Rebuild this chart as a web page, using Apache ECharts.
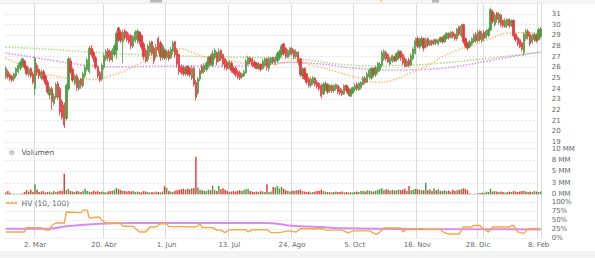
<!DOCTYPE html>
<html><head><meta charset="utf-8">
<script src="https://cdn.jsdelivr.net/npm/echarts@6.0.0/dist/echarts.min.js"></script>
<style>html,body{margin:0;padding:0;background:#fff}#c{width:595px;height:258px}</style>
</head><body><div id="c"></div>
<script>
// ---- categories ----
const startDate = '2015-02-10';
const barCount = 257;
const holidays = ['2015-04-03','2015-04-06','2015-12-25','2016-01-01'];
const tickDates = ['2015-03-02','2015-04-20','2015-06-01','2015-07-13','2015-08-24','2015-10-05','2015-11-16','2015-12-28','2016-02-08'];
const tickLabels = ['2. Mar','20. Abr','1. Jun','13. Jul','24. Ago','5. Oct','16. Nov','28. Dic','8. Feb'];
const extraGridDates = ['2015-12-31'];

// ---- price (OHLC) ----
const open = [
25.1,25.6,25.3,25.2,24.9,25.2,25.6,25.9,26.2,26.6,
26.1,25.3,25.9,25.4,24.0,26.2,25.8,25.0,25.6,25.2,
24.6,23.4,24.0,22.6,23.2,24.5,24.0,22.8,22.5,21.2,
24.0,26.6,25.8,24.5,25.2,24.0,24.9,24.3,25.2,25.8,
25.6,27.8,27.4,26.9,26.0,25.5,24.9,26.0,26.8,27.6,
27.5,26.7,27.2,27.6,29.7,29.3,28.4,29.4,29.3,29.0,
29.0,28.0,28.5,28.6,29.3,29.0,28.2,27.6,26.8,27.4,
28.4,27.8,27.0,28.7,28.3,26.9,27.6,26.9,27.5,26.9,
27.5,28.4,27.6,27.2,26.1,26.0,25.4,26.1,25.9,25.0,
25.9,24.6,23.6,24.9,26.1,25.6,25.8,26.2,27.0,26.2,
26.9,27.4,26.6,27.6,27.2,26.8,26.5,25.9,26.4,25.9,
25.9,25.6,25.5,25.1,25.2,25.5,26.3,26.9,26.8,26.5,
26.4,25.9,26.3,25.9,26.2,26.8,25.9,26.4,26.9,26.4,
26.6,26.9,27.2,28.2,27.8,27.0,27.2,27.8,27.6,27.0,
27.4,26.8,25.2,25.9,25.4,24.9,24.3,24.5,25.0,24.6,
24.5,24.3,23.5,23.9,24.4,23.8,24.3,23.8,24.0,24.3,
24.0,23.8,23.5,24.3,24.0,23.3,23.6,23.9,24.4,23.9,
24.1,24.4,25.0,24.6,25.1,25.0,25.9,25.3,25.6,25.8,
26.2,26.8,27.4,27.2,26.3,26.6,27.0,26.7,26.9,27.5,
27.2,26.8,26.1,26.7,26.2,26.8,27.3,28.7,27.9,28.1,
28.7,27.9,28.7,28.1,28.5,28.2,28.6,28.2,28.4,28.8,
28.4,28.7,29.2,28.8,29.3,29.1,28.7,29.8,29.0,30.0,
28.7,28.3,27.9,28.2,28.4,29.1,28.5,29.4,28.5,29.3,
28.8,29.0,29.5,31.2,30.0,31.1,30.2,30.9,30.4,29.8,
29.9,30.5,29.9,30.4,29.1,28.8,28.6,28.3,27.4,28.7,
29.4,29.1,28.4,28.6,29.0,28.6,28.9];
const close = [
25.9,25.1,24.9,24.8,25.4,25.9,26.2,26.5,26.8,26.0,
25.4,25.8,25.2,24.6,26.8,25.5,25.2,25.6,24.9,24.5,
23.7,24.0,22.8,23.3,24.4,23.2,21.8,21.3,20.6,24.3,
26.8,25.6,24.8,25.2,24.1,24.8,24.3,25.4,26.0,26.7,
27.8,27.2,26.8,26.0,25.2,24.8,26.2,27.1,27.5,26.9,
26.7,27.6,28.0,29.2,28.6,28.5,29.3,28.8,28.6,28.4,
28.0,28.9,29.3,29.4,28.4,27.9,27.0,26.6,28.0,28.3,
27.3,26.6,27.9,27.6,27.0,28.0,26.9,27.5,26.8,27.7,
28.3,27.2,26.3,25.6,25.5,25.4,25.9,25.4,25.3,25.9,
24.4,23.2,24.9,25.7,25.5,26.2,26.4,26.9,26.4,27.3,
27.6,26.5,27.5,26.8,26.3,26.0,25.9,26.5,25.7,25.5,
25.3,25.1,25.0,25.4,25.6,26.6,26.9,26.5,26.2,26.1,
25.9,26.3,25.8,26.6,26.8,26.0,26.8,26.9,26.5,26.9,
27.3,27.5,28.0,27.3,27.0,27.6,27.8,27.3,27.0,27.5,
26.5,25.3,25.8,24.9,24.6,24.3,24.9,25.0,24.4,24.2,
24.0,23.3,24.4,24.5,23.7,24.3,23.8,24.3,24.4,23.7,
23.6,23.5,24.3,23.8,23.5,23.9,24.1,24.3,24.0,24.5,
24.6,25.0,24.6,25.4,25.7,25.9,25.3,26.0,26.4,26.3,
27.4,27.5,26.8,26.5,26.9,27.1,26.6,27.3,27.5,26.9,
26.4,26.1,26.6,26.2,27.1,27.7,28.5,28.0,28.6,28.7,
27.8,28.6,28.1,28.5,28.2,28.6,28.3,28.6,28.8,28.4,
29.0,29.2,28.8,29.3,28.9,28.7,29.6,29.1,29.9,28.4,
28.0,27.8,28.4,28.7,29.0,28.5,29.3,28.6,29.2,28.7,
29.4,29.5,31.4,30.3,30.9,30.5,31.0,30.0,29.9,30.4,
30.5,29.9,30.4,29.0,28.6,28.2,27.9,27.7,29.1,29.4,
28.9,28.2,29.0,29.1,28.5,29.5,29.6];
const low = [
24.9,24.9,24.7,24.6,24.7,25.0,25.4,25.7,26.0,25.8,
25.2,25.1,25.0,24.4,23.4,25.2,24.9,24.8,24.7,24.3,
23.5,23.0,22.0,22.4,23.0,23.0,21.5,21.1,20.3,21.0,
23.8,25.4,24.6,24.3,23.8,23.8,24.0,24.1,25.0,25.6,
25.4,27.0,26.5,25.8,25.0,24.6,24.7,25.8,26.6,26.6,
26.5,26.5,27.0,26.8,28.4,28.3,26.4,28.6,28.4,28.2,
27.7,27.8,28.3,28.2,28.1,27.6,26.7,26.4,26.5,27.1,
27.1,26.3,26.8,27.3,26.6,26.7,26.7,26.7,26.6,26.8,
27.2,26.9,26.0,25.3,25.3,25.2,25.2,25.2,25.1,24.8,
24.2,22.9,23.4,24.7,25.4,25.4,25.6,25.9,26.1,26.0,
26.7,26.2,26.5,26.6,26.1,25.8,25.7,25.8,25.5,25.4,
25.1,24.9,24.8,24.9,25.1,25.4,26.2,26.3,26.0,25.9,
25.8,25.8,25.6,25.8,26.0,25.7,25.6,26.2,26.3,26.2,
26.4,26.7,27.0,27.1,26.8,26.9,27.0,27.1,26.8,26.8,
26.2,25.1,24.9,24.8,24.4,24.1,24.1,24.3,24.2,24.0,
23.8,23.1,23.4,23.8,23.5,23.6,23.6,23.6,23.8,23.5,
23.4,23.3,23.4,23.6,23.3,23.2,23.5,23.7,23.8,23.8,
23.9,24.3,24.4,24.5,24.9,24.8,25.1,25.1,25.4,25.6,
26.0,26.6,26.6,26.4,26.2,26.4,26.5,26.5,26.7,26.6,
26.2,26.0,26.0,26.0,26.1,26.7,27.2,27.8,27.7,28.0,
27.5,27.8,27.9,28.0,28.0,28.1,28.1,28.1,28.3,28.2,
28.3,28.6,28.6,28.7,28.7,28.5,28.5,28.9,28.8,28.2,
27.8,27.6,27.8,28.0,28.3,28.3,28.3,28.4,28.3,28.5,
28.7,28.8,29.4,30.1,29.8,30.2,30.0,29.8,29.7,29.7,
29.7,29.7,29.8,28.8,28.4,28.0,27.8,27.5,27.1,28.5,
28.6,28.0,28.2,28.4,28.3,28.5,28.7];
const high = [
26.1,25.8,25.5,25.3,25.5,26.0,26.4,26.7,26.9,26.7,
26.2,26.0,26.0,25.6,27.0,26.4,25.9,25.8,25.8,25.3,
24.8,24.2,24.2,23.6,24.6,24.7,24.2,23.0,22.7,24.5,
27.0,26.9,26.0,25.4,25.4,25.0,25.0,25.6,26.2,26.9,
28.0,28.1,27.6,27.1,26.2,25.7,26.4,27.3,27.7,27.8,
27.7,27.8,28.2,29.4,29.8,29.5,29.5,29.6,29.4,29.2,
29.1,29.0,29.5,29.6,29.4,29.1,28.4,27.8,28.2,28.5,
28.5,28.0,28.2,28.9,28.5,28.2,27.8,27.7,27.7,27.9,
28.5,28.5,27.8,27.3,26.3,26.2,26.1,26.2,26.1,26.2,
26.1,24.8,25.1,25.9,26.3,26.4,26.6,27.1,27.2,27.6,
27.8,27.5,27.8,27.7,27.3,26.9,26.7,26.7,26.6,26.1,
26.1,25.8,25.7,25.5,25.8,26.8,27.1,27.0,26.9,26.7,
26.5,26.5,26.4,26.8,26.9,26.9,27.0,27.0,27.0,27.1,
27.5,27.7,28.2,28.3,27.9,27.7,27.9,27.9,27.7,27.7,
27.5,26.9,26.0,26.0,25.5,25.1,25.1,25.2,25.1,24.8,
24.6,24.5,24.6,24.7,24.5,24.4,24.4,24.4,24.5,24.4,
24.2,24.0,24.4,24.4,24.2,24.0,24.2,24.5,24.6,24.6,
24.7,25.2,25.2,25.6,25.9,26.0,26.0,26.1,26.5,26.5,
27.6,27.7,27.6,27.3,27.0,27.2,27.1,27.4,27.7,27.6,
27.3,27.0,26.8,26.9,27.3,27.9,28.8,28.9,28.8,28.9,
28.8,28.8,28.8,28.6,28.6,28.7,28.7,28.7,28.9,28.9,
29.1,29.3,29.3,29.4,29.4,29.2,29.7,29.9,30.1,30.1,
28.8,28.4,28.6,28.8,29.2,29.3,29.5,29.5,29.4,29.5,
29.6,29.7,31.6,31.4,31.1,31.2,31.2,31.0,30.5,30.6,
30.6,30.6,30.5,30.5,29.2,28.9,28.7,28.4,29.3,29.6,
29.6,29.3,29.2,29.3,29.2,29.7,29.8];

// ---- volume (millions) ----
const volume = [
0.4,0.7,0.3,0.1,0.1,0.1,0.1,0.1,0.2,0.5,
0.9,0.6,1.0,0.5,2.2,1.0,0.5,0.6,0.7,0.4,
0.5,0.6,0.4,0.7,0.5,0.6,0.8,0.7,4.5,0.9,
1.2,0.7,0.6,0.5,0.7,0.6,0.5,0.8,1.2,0.7,
0.6,0.5,0.8,0.6,0.7,0.5,0.6,0.5,0.4,0.6,
0.7,0.8,1.0,1.4,1.1,0.9,0.8,0.7,0.6,0.7,
0.6,0.7,0.5,0.6,0.5,0.4,0.7,0.6,0.5,0.4,
0.5,0.4,0.6,0.5,0.4,0.6,1.8,1.4,0.7,0.6,
0.5,0.8,0.9,1.0,1.1,1.2,1.0,1.2,1.1,1.3,
1.3,8.2,1.5,1.0,0.9,0.8,0.7,1.0,0.9,1.9,
0.9,0.7,1.8,1.1,1.3,1.0,0.7,0.5,0.6,0.7,
0.6,0.8,0.9,0.7,1.0,1.1,1.2,0.7,0.6,0.5,
0.6,0.5,0.7,0.6,0.5,2.2,0.5,0.6,1.6,1.5,
1.8,1.3,1.6,1.2,0.9,0.7,0.6,0.8,0.7,0.9,
0.9,1.0,0.7,0.6,0.5,0.6,0.4,0.5,0.6,0.7,
0.8,1.0,0.7,0.6,0.5,0.5,0.4,0.5,0.6,0.5,
0.5,0.6,0.4,0.5,0.4,0.5,0.4,0.5,0.6,0.5,
0.7,0.8,0.6,0.9,0.8,0.7,0.6,0.8,1.0,1.1,
1.3,0.9,1.1,1.0,0.8,1.0,0.8,0.9,1.0,0.9,
1.0,1.2,0.8,1.8,0.9,1.0,1.2,1.1,1.0,0.9,
0.9,2.5,0.9,1.1,0.7,1.3,0.9,1.1,0.8,0.7,
0.9,0.7,0.8,0.6,1.0,0.7,0.9,1.0,1.1,1.3,
1.2,0.9,0.2,0.1,0.1,0.1,0.2,0.3,0.4,0.3,
0.6,0.5,1.2,0.6,0.7,0.6,0.5,0.6,0.5,0.4,
0.5,0.6,0.5,0.7,0.6,0.5,0.6,0.7,0.8,0.6,
0.5,0.6,0.5,0.7,0.6,0.5,0.6];

// ---- moving averages read at sample bars: [barIndex, value] ----
const maGreen = [[0,27.9],[16,27.75],[32,27.55],[48,27.35],[64,27.2],[80,27.1],[96,27.0],[112,26.95],[128,26.9],[144,26.7],[160,26.3],[176,26.15],[192,26.2],[208,26.4],[224,26.7],[240,27.05],[256,27.45]];
const maViolet = [[0,27.35],[8,27.1],[16,26.85],[24,26.6],[32,26.35],[40,26.15],[56,26.05],[72,26.1],[88,26.1],[104,26.1],[120,26.2],[136,26.45],[152,26.3],[168,25.9],[184,25.75],[200,25.8],[216,26.1],[232,26.65],[248,27.2],[256,27.4]];
const maOrange = [[0,26.85],[6,26.35],[13,25.65],[26,25.1],[32,24.95],[41,24.85],[50,25.2],[56,25.6],[64,26.35],[72,27.05],[80,27.6],[84,27.75],[89,27.4],[97,26.9],[107,26.6],[116,26.35],[127,26.25],[136,26.5],[150,26.05],[158,25.6],[170,24.95],[178,24.6],[185,24.8],[193,25.4],[202,26.2],[209,27.0],[216,27.6],[224,28.1],[232,28.7],[240,29.2],[248,29.25],[256,29.2]];

// ---- historical volatility (%) : [barIndex, value] ----
const hvOrange = [[0,17],[9,17],[10,29],[17,29],[19,22],[21,22],[22,35],[24,42],[28,42],[29,73],[36,71],[37,78],[39,78],[40,55],[43,58],[45,58],[46,49],[48,42],[55,42],[56,33],[61,33],[64,17],[67,17],[69,31],[72,31],[74,40],[77,40],[78,32],[83,32],[91,31],[93,40],[94,29],[99,29],[101,22],[103,22],[105,15],[107,23],[115,23],[116,17],[118,23],[125,23],[127,15],[131,15],[135,20],[139,17],[141,26],[152,26],[153,22],[161,22],[164,14],[166,20],[174,20],[177,11],[178,11],[181,28],[189,28],[190,17],[192,24],[208,24],[209,18],[212,11],[217,11],[219,31],[223,31],[224,35],[227,35],[228,28],[231,17],[233,31],[241,31],[242,35],[243,35],[245,17],[248,13],[250,26],[256,27]];
const hvViolet = [[0,26],[21,26],[29,33],[45,40],[60,42],[100,42],[125,42],[130,40],[137,34],[150,31],[162,27],[200,25],[256,24]];

// ---- build categories (trading days) ----
const dates = [];
{
  let t = Date.parse(startDate + 'T00:00:00Z');
  while (dates.length < barCount) {
    const d = new Date(t);
    const s = d.toISOString().slice(0, 10);
    const wd = d.getUTCDay();
    if (wd !== 0 && wd !== 6 && holidays.indexOf(s) < 0) dates.push(s);
    t += 86400000;
  }
}
const labelMap = {};
tickDates.forEach((d, i) => { labelMap[d] = tickLabels[i]; });
const gridSet = new Set(tickDates.concat(extraGridDates));

const UP = '#4f9a42', DOWN = '#e6393b';
const FONT = 'DejaVu Sans';
const candle = dates.map((_, i) => [open[i], close[i], low[i], high[i]]);
const volData = volume.map((v, i) => ({ value: v, itemStyle: { color: close[i] >= open[i] ? UP : DOWN } }));

const L = 4.7, R = 53.3;
const hSplit = { show: true, lineStyle: { color: '#e2e2e2', type: [2, 2], width: 1 } };
const yLab = { fontSize: 7, color: '#666', fontFamily: FONT, margin: 10 };
const xHidden = (gi) => ({ type: 'category', gridIndex: gi, data: dates, boundaryGap: true,
  axisLine: { show: false }, axisTick: { show: false }, axisLabel: { show: false }, splitLine: { show: false } });

const chart = echarts.init(document.getElementById('c'), null, { renderer: 'svg' });
chart.setOption({
  animation: false,
  backgroundColor: '#ffffff',
  grid: [
    { left: L, right: R, top: 3.4, height: 138.6 },
    { left: L, right: R, top: 148.5, height: 45.8 },
    { left: L, right: R, top: 202.3, height: 35.7 },
    { left: L, right: R, top: 4, height: 234 }
  ],
  xAxis: [
    xHidden(0),
    xHidden(1),
    Object.assign(xHidden(2), {
      axisLabel: { show: true, interval: (idx, val) => labelMap[val] !== undefined,
        formatter: (v) => labelMap[v] || '', fontSize: 7, color: '#666', fontFamily: FONT, margin: 3 }
    }),
    Object.assign(xHidden(3), {
      splitLine: { show: true, interval: (idx, val) => gridSet.has(val), lineStyle: { color: '#dcdcdc', width: 1 } }
    })
  ],
  yAxis: [
    { type: 'value', gridIndex: 0, position: 'right', min: 19, max: 32, interval: 1,
      axisLine: { show: false }, axisTick: { show: false },
      axisLabel: Object.assign({ showMaxLabel: false }, yLab, { verticalAlign: 'middle', lineHeight: 7 }), splitLine: hSplit },
    { type: 'value', gridIndex: 1, position: 'right', min: 0, max: 10, interval: 2.5,
      axisLine: { show: false }, axisTick: { show: false },
      axisLabel: Object.assign({ formatter: (v) => Math.round(v) + ' MM' }, yLab, { lineHeight: 7 }), splitLine: hSplit },
    { type: 'value', gridIndex: 2, position: 'right', min: 0, max: 100, interval: 25,
      axisLine: { show: false }, axisTick: { show: false },
      axisLabel: Object.assign({ formatter: '{value}%' }, yLab, { lineHeight: 7 }), splitLine: hSplit },
    { type: 'value', gridIndex: 3, show: false, min: 0, max: 1 }
  ],
  series: [
    { type: 'line', name: 'MA green', xAxisIndex: 0, yAxisIndex: 0, data: maGreen, smooth: true, showSymbol: false,
      lineStyle: { color: '#a9dc7c', width: 1.5, type: 'dotted' }, z: 3 },
    { type: 'line', name: 'MA violet', xAxisIndex: 0, yAxisIndex: 0, data: maViolet, smooth: true, showSymbol: false,
      lineStyle: { color: '#de8cf4', width: 1.5, type: 'dotted' }, z: 3 },
    { type: 'line', name: 'MA orange', xAxisIndex: 0, yAxisIndex: 0, data: maOrange, smooth: true, showSymbol: false,
      lineStyle: { color: '#fbbd72', width: 1.5, type: 'dotted' }, z: 3 },
    { type: 'candlestick', name: 'Precio', xAxisIndex: 0, yAxisIndex: 0, data: candle, barWidth: '88%', z: 4,
      itemStyle: { color: UP, color0: DOWN, borderColor: UP, borderColor0: DOWN, borderWidth: 0.8 } },
    { type: 'bar', name: 'Volumen', xAxisIndex: 1, yAxisIndex: 1, data: volData, barWidth: '70%' },
    { type: 'line', name: 'HV largo', xAxisIndex: 2, yAxisIndex: 2, data: hvViolet, smooth: true, showSymbol: false,
      lineStyle: { color: '#d98af2', width: 2 } },
    { type: 'line', name: 'HV (10, 100)', xAxisIndex: 2, yAxisIndex: 2, data: hvOrange, showSymbol: false,
      lineStyle: { color: '#f7a83e', width: 1.4 } }
  ],
  graphic: [
    { type: 'rect', shape: { x: 0, y: 0, width: 595, height: 4 }, style: { fill: '#f4f4f4' }, z: -1 },
    { type: 'rect', shape: { x: 0, y: 251, width: 595, height: 7 }, style: { fill: '#f3f3f3' }, z: -1 },
    { type: 'rect', shape: { x: 150, y: 0, width: 12, height: 2.5 }, style: { fill: '#b8b8b8' } },
    { type: 'rect', shape: { x: 432, y: 0, width: 7, height: 2.5 }, style: { fill: '#b8b8b8' } },
    { type: 'rect', shape: { x: 380, y: 0, width: 2, height: 1.5 }, style: { fill: '#fcc58a' } },
    { type: 'circle', shape: { cx: 11.7, cy: 152.6, r: 2.8 }, style: { fill: '#cccccc' } },
    { type: 'text', x: 21.5, y: 152.6, style: { text: 'Volumen', fontSize: 7.5, fontFamily: FONT, fill: '#555', verticalAlign: 'middle' } },
    { type: 'line', shape: { x1: 6, y1: 202.8, x2: 17, y2: 202.8 }, style: { stroke: '#f7a83e', lineWidth: 2 } },
    { type: 'text', x: 21.5, y: 203.5, style: { text: 'HV (10, 100)', fontSize: 7.5, fontFamily: FONT, fill: '#555', verticalAlign: 'middle' } }
  ]
});
</script>
</body></html>
